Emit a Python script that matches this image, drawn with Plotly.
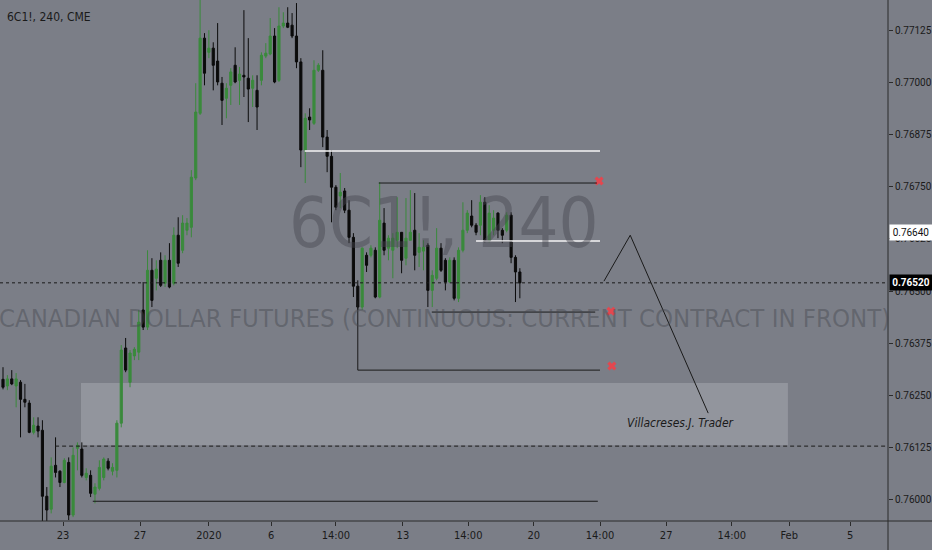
import plotly.graph_objects as go

# ---------------- data ----------------
opens = [.76289,.76273,.76290,.76273,.76282,.76241,.76232,.76162,.76177,.76167,
         .76009,.75978,.76083,.76069,.76042,.76090,.75964,.76124,.76122,.76054,
         .76059,.76014,.76028,.76054,.76093,.76069,.76071,.76184,.76364,.76282,
         .76345,.76354,.76455,.76414,.76550,.76531,.76574,.76519,.76574,.76519,
         .76634,.76598,.76646,.76653,.76771,.76926,.77106,.77072,.77082,.77051,
         .76998,.76962,.76993,.77041,.77005,.77017,.77010,.76986,.76981,.77005,
         .77063,.77068,.77111,.77005,.77135,.77142,.77137,.77111,.77049,.76838,
         .76917,.76902,.77029,.77029,.76869,.76823,.76749,.76728,.76740,.76694,
         .76629,.76512,.76462,.76586,.76586,.76598,.76486,.76663,.76603,.76598,
         .76622,.76641,.76579,.76622,.76646,.76593,.76596,.76610,.76502,.76531,
         .76603,.76574,.76522,.76574,.76483,.76598,.76646,.76680,.76658,.76658,
         .76713,.76622,.76646,.76687,.76646,.76646,.76682,.76581,.76546]
highs = [.76318,.76299,.76311,.76304,.76287,.76278,.76239,.76198,.76198,.76191,
         .76031,.76102,.76150,.76071,.76100,.76102,.76126,.76138,.76138,.76076,
         .76071,.76040,.76095,.76102,.76100,.76088,.76191,.76371,.76388,.76359,
         .76366,.76455,.76522,.76598,.76579,.76574,.76593,.76586,.76615,.76653,
         .76677,.76682,.76675,.76790,.76998,.77200,.77118,.77125,.77096,.77142,
         .77013,.76998,.77034,.77084,.77037,.77173,.77106,.77017,.77017,.77072,
         .77094,.77154,.77130,.77180,.77168,.77180,.77166,.77190,.77058,.76926,
         .76938,.77053,.77046,.77077,.76886,.76838,.76754,.76783,.76747,.76718,
         .76639,.76526,.76605,.76593,.76610,.76605,.76761,.76699,.76634,.76639,
         .76725,.76641,.76723,.76742,.76735,.76639,.76622,.76615,.76550,.76651,
         .76615,.76579,.76581,.76581,.76605,.76713,.76694,.76718,.76663,.76730,
         .76725,.76706,.76694,.76689,.76651,.76689,.76689,.76586,.76555]
lows = [.76265,.76263,.76275,.76222,.76150,.76222,.76160,.76157,.76150,.75945,
        .75945,.75968,.76054,.76031,.76040,.75952,.75959,.76071,.76054,.76047,
        .76007,.75992,.76023,.76047,.76071,.76059,.76054,.76174,.76306,.76270,
        .76335,.76335,.76407,.76407,.76462,.76502,.76510,.76510,.76507,.76514,
        .76558,.76591,.76634,.76629,.76766,.76922,.76993,.77058,.76981,.76993,
        .76898,.76914,.76946,.76998,.76946,.76965,.76905,.76941,.76886,.76993,
        .77058,.77065,.76998,.77001,.77130,.77130,.77106,.77034,.76797,.76759,
        .76886,.76898,.77025,.76845,.76785,.76665,.76694,.76699,.76687,.76615,
        .76486,.76455,.76455,.76546,.76581,.76483,.76483,.76586,.76574,.76531,
        .76603,.76543,.76562,.76622,.76550,.76558,.76550,.76462,.76462,.76526,
        .76546,.76502,.76519,.76478,.76474,.76593,.76639,.76653,.76634,.76634,
        .76617,.76617,.76634,.76627,.76615,.76641,.76567,.76474,.76483]
closes = [.76270,.76290,.76278,.76290,.76241,.76234,.76162,.76179,.76165,.76009,
          .75976,.76081,.76066,.76042,.76095,.75964,.76107,.76131,.76059,.76064,
          .76016,.76031,.76078,.76098,.76076,.76078,.76184,.76359,.76311,.76352,
          .76361,.76426,.76414,.76550,.76478,.76553,.76514,.76574,.76510,.76634,
          .76567,.76663,.76663,.76773,.76929,.77106,.77022,.77082,.77041,.77001,
          .76957,.76986,.77025,.77001,.77020,.77013,.76984,.77005,.76941,.77065,
          .77070,.77111,.77001,.77135,.77142,.77132,.77111,.77049,.76838,.76914,
          .76910,.77029,.77041,.76869,.76823,.76749,.76701,.76737,.76694,.76629,
          .76512,.76462,.76603,.76562,.76603,.76486,.76670,.76598,.76627,.76627,
          .76641,.76574,.76627,.76641,.76586,.76605,.76605,.76502,.76538,.76603,
          .76550,.76522,.76574,.76483,.76598,.76646,.76687,.76658,.76641,.76713,
          .76622,.76687,.76675,.76646,.76634,.76682,.76581,.76546,.76520]
bars = list(range(len(opens)))

x_tick_pos = [13.7, 31.3, 47.0, 61.2, 76.0, 91.3, 106.2, 121.2, 136.3, 151.4, 166.4, 179.5, 193.4]
x_tick_text = ["23", "27", "2020", "6", "14:00", "13", "14:00", "20", "14:00", "27", "14:00", "Feb", "5"]
y_ticks = [0.76000, 0.76125, 0.76250, 0.76375, 0.76500, 0.76625, 0.76750, 0.76875, 0.77000, 0.77125]

last_price = 0.76520
line_price = 0.76640

# drawings (bar index, price)
white_lines = [(68.9, 136.3, 0.76836), (108.0, 136.3, 0.76620)]
black_lines = [(85.8, 135.6, 0.76759), (97.9, 135.2, 0.76450), (81.0, 136.3, 0.76311), (20.5, 135.8, 0.75997)]
bracket_vertical = (81.0, 0.76478, 0.76311)
zone = (17.8, 179.2, 0.76131, 0.76280)
dashed_level = (11.9, 0.76129)
triangle_x = [137.2, 143.2, 161.0]
triangle_y = [0.76524, 0.76634, 0.76208]
cross_x = [136.1, 138.8, 139.0]
cross_y = [0.76764, 0.76452, 0.76321]
note = (154.6, 0.76184, "Villacreses.J. Trader")

BG = "#7b7e87"
GREEN = "#3a8a3c"
BLACK = "#0b0b0b"
DARK = "#1a1a1a"
FONT = "Roboto, DejaVu Sans, sans-serif"
NARROW = "Liberation Sans Narrow, DejaVu Sans Condensed, Roboto, sans-serif"

fig = go.Figure()

fig.add_trace(go.Candlestick(
    x=bars, open=opens, high=highs, low=lows, close=closes,
    increasing=dict(line=dict(color=GREEN, width=1), fillcolor=GREEN),
    decreasing=dict(line=dict(color=BLACK, width=1), fillcolor=BLACK),
    whiskerwidth=0, hoverinfo="skip", showlegend=False,
))

fig.add_trace(go.Scatter(
    x=triangle_x, y=triangle_y, mode="lines",
    line=dict(color=DARK, width=1), hoverinfo="skip", showlegend=False,
))
fig.add_trace(go.Scatter(
    x=cross_x, y=cross_y, mode="markers",
    marker=dict(symbol="x", size=8, color="#e3474f", line=dict(width=0)),
    hoverinfo="skip", showlegend=False,
))

shapes = []
shapes.append(dict(type="rect", xref="x", yref="y", x0=zone[0], x1=zone[1], y0=zone[2], y1=zone[3],
                   fillcolor="rgba(175,178,185,0.45)", line=dict(width=0), layer="below"))
for x0, x1, y in white_lines:
    shapes.append(dict(type="line", xref="x", yref="y", x0=x0, x1=x1, y0=y, y1=y,
                       line=dict(color="#f4f4f4", width=1.5)))
for x0, x1, y in black_lines:
    shapes.append(dict(type="line", xref="x", yref="y", x0=x0, x1=x1, y0=y, y1=y,
                       line=dict(color=DARK, width=1)))
shapes.append(dict(type="line", xref="x", yref="y", x0=bracket_vertical[0], x1=bracket_vertical[0],
                   y0=bracket_vertical[1], y1=bracket_vertical[2], line=dict(color=DARK, width=1)))
shapes.append(dict(type="line", xref="x", yref="y", x0=dashed_level[0], x1=205, y0=dashed_level[1], y1=dashed_level[1],
                   line=dict(color=DARK, width=1, dash="4px,3px")))
shapes.append(dict(type="line", xref="paper", yref="y", x0=0, x1=1, y0=last_price, y1=last_price,
                   line=dict(color=DARK, width=1, dash="dot")))
shapes.append(dict(type="line", xref="paper", yref="paper", x0=1, x1=1, y0=-0.06, y1=1,
                   line=dict(color="#2b2b2b", width=1)))
shapes.append(dict(type="line", xref="paper", yref="paper", x0=0, x1=1.05, y0=0, y1=0,
                   line=dict(color="#2b2b2b", width=1)))

annotations = [
    dict(xref="paper", yref="paper", x=0.5, y=0.572, text="6C1!, 240", showarrow=False,
         font=dict(family=NARROW, size=70, color="rgba(70,72,80,0.45)"), xanchor="center", yanchor="middle"),
    dict(xref="paper", yref="paper", x=0.5, y=0.39,
         text="CANADIAN DOLLAR FUTURES (CONTINUOUS: CURRENT CONTRACT IN FRONT)", showarrow=False,
         font=dict(family=NARROW, size=25.5, color="rgba(70,72,80,0.45)"), xanchor="center", yanchor="middle"),
    dict(xref="paper", yref="paper", x=0.006, y=0.985, text="6C1!, 240, CME", showarrow=False,
         font=dict(family=NARROW, size=12, color=DARK), xanchor="left", yanchor="top"),
    dict(xref="x", yref="y", x=note[0], y=note[1], text="<i>" + note[2] + "</i>", showarrow=False,
         font=dict(family=NARROW, size=12, color=DARK), xanchor="center", yanchor="middle"),
    dict(xref="paper", yref="y", x=1, y=line_price, text="0.76640", showarrow=False,
         xanchor="left", yanchor="middle", bgcolor="#ffffff", borderpad=2, xshift=1,
         font=dict(family=FONT, size=10, color="#111111"), width=38),
    dict(xref="paper", yref="y", x=1, y=last_price, text="<b>0.76520</b>", showarrow=False,
         xanchor="left", yanchor="middle", bgcolor="#000000", borderpad=2, xshift=1,
         font=dict(family=FONT, size=10, color="#ffffff"), width=38),
]

fig.update_layout(
    width=932, height=550,
    margin=dict(l=0, r=42, t=0, b=29),
    paper_bgcolor=BG, plot_bgcolor=BG,
    showlegend=False,
    shapes=shapes, annotations=annotations,
    xaxis=dict(range=[-0.685, 202.05], rangeslider=dict(visible=False), showgrid=False, zeroline=False,
               tickmode="array", tickvals=x_tick_pos, ticktext=x_tick_text, ticks="outside", ticklen=4,
               tickcolor="#2b2b2b", tickfont=dict(family=NARROW, size=11, color=DARK), showline=False,
               fixedrange=True),
    yaxis=dict(side="right", range=[0.759497, 0.771973], showgrid=False, zeroline=False,
               tickmode="array", tickvals=y_ticks, ticktext=[f"{v:.5f}" for v in y_ticks],
               ticks="outside", ticklen=4, tickcolor="#2b2b2b",
               tickfont=dict(family=FONT, size=10, color=DARK), showline=False, fixedrange=True),
)

fig.write_html("out.html", config={"displayModeBar": False},
               post_script="document.body.style.margin='0';document.body.style.background='" + BG + "';")
